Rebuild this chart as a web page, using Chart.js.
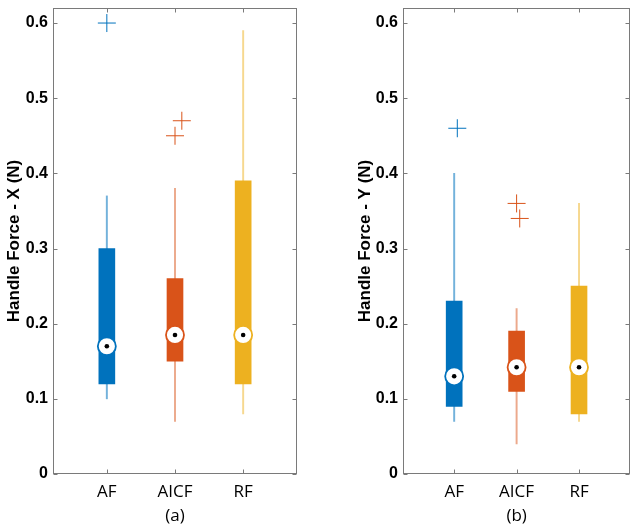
<!DOCTYPE html>
<html>
<head>
<meta charset="utf-8">
<script src="https://cdn.jsdelivr.net/npm/chart.js@4.4.1/dist/chart.umd.min.js"></script>
<style>
  body { margin: 0; background: #fff; }
  #wrap { position: relative; width: 641px; height: 529px; }
  canvas { position: absolute; top: 0; }
</style>
</head>
<body>
<div id="wrap">
  <canvas id="chartX" width="320" height="529" style="left:0"></canvas>
  <canvas id="chartY" width="321" height="529" style="left:320px"></canvas>
</div>
<script>
// groups
var groups = ['AF', 'AICF', 'RF'];
var yTicks = [0, 0.1, 0.2, 0.3, 0.4, 0.5, 0.6];

// (a) Handle Force - X
var xLow    = [0.10, 0.07, 0.08];
var xQ1     = [0.12, 0.15, 0.12];
var xMedian = [0.17, 0.185, 0.185];
var xQ3     = [0.30, 0.26, 0.39];
var xHigh   = [0.37, 0.38, 0.59];
var xOutPos = [1, 2, 2.1];
var xOutGrp = [0, 1, 1];
var xOutVal = [0.60, 0.45, 0.47];

// (b) Handle Force - Y
var yLow    = [0.07, 0.04, 0.07];
var yQ1     = [0.09, 0.11, 0.08];
var yMedian = [0.13, 0.142, 0.142];
var yQ3     = [0.23, 0.19, 0.25];
var yHigh   = [0.40, 0.22, 0.36];
var yOutPos = [1.05, 2, 2.05];
var yOutGrp = [0, 1, 1];
var yOutVal = [0.46, 0.36, 0.34];

var colors = ['#0072BD', '#D95319', '#EDB120'];
var lightColors = ['rgba(0,114,189,0.55)', 'rgba(217,83,25,0.5)', 'rgba(237,177,32,0.5)'];
var frameColor = '#7a7a7a';
var areaTop = 8;

// frame + inward ticks like matlab
var framePlugin = {
  id: 'frame',
  afterLayout: function(chart) {
    // pin the top of the plot box
    var a = chart.chartArea, ys = chart.scales.y;
    a.top = areaTop; a.height = a.bottom - a.top;
    ys.top = areaTop; ys.height = ys.bottom - ys.top;
    ys.configure();
  },
  afterDraw: function(chart) {
    var ctx = chart.ctx, a = chart.chartArea;
    var xs = chart.scales.x, ys = chart.scales.y;
    ctx.save();
    ctx.strokeStyle = frameColor;
    ctx.lineWidth = 1;
    var l = Math.round(a.left) + 0.5, r = Math.round(a.right) - 0.5;
    var t = Math.round(a.top) + 0.5, b = Math.round(a.bottom) - 0.5;
    ctx.strokeRect(l, t, r - l, b - t);
    ctx.beginPath();
    yTicks.forEach(function(v) {
      var py = Math.round(ys.getPixelForValue(v)) + 0.5;
      ctx.moveTo(l, py); ctx.lineTo(l + 4, py);
      ctx.moveTo(r, py); ctx.lineTo(r - 4, py);
    });
    groups.forEach(function(g, i) {
      var px = Math.round(xs.getPixelForValue(i + 1)) + 0.5;
      ctx.moveTo(px, b); ctx.lineTo(px, b - 4);
      ctx.moveTo(px, t); ctx.lineTo(px, t + 4);
    });
    ctx.stroke();
    ctx.restore();
  }
};

function makeChart(id, o) {
  var whiskers = groups.map(function(g, i) { return {x: i + 1, y: [o.low[i], o.high[i]]}; });
  var boxes = groups.map(function(g, i) { return {x: i + 1, y: [o.q1[i], o.q3[i]]}; });
  var medians = groups.map(function(g, i) { return {x: i + 1, y: o.med[i]}; });
  var outliers = o.outVal.map(function(v, i) { return {x: o.outPos[i], y: v}; });
  var outColors = o.outGrp.map(function(k) { return colors[k]; });

  return new Chart(document.getElementById(id), {
    type: 'bar',
    data: {
      datasets: [
        { type: 'scatter', data: medians, pointStyle: 'circle', pointRadius: 2.3,
          pointBackgroundColor: '#000', pointBorderWidth: 0, order: 0 },
        { type: 'scatter', data: medians, pointStyle: 'circle', pointRadius: 9,
          pointBackgroundColor: '#fff', pointBorderColor: colors, pointBorderWidth: 1.8, order: 1 },
        { type: 'scatter', data: outliers, pointStyle: 'cross', pointRadius: 9,
          pointBorderColor: outColors, pointBorderWidth: 1, order: 1 },
        { data: boxes, backgroundColor: colors, barThickness: 16, grouped: false, order: 2 },
        { data: whiskers, backgroundColor: lightColors, barThickness: 1.3, grouped: false, order: 3 }
      ]
    },
    options: {
      responsive: false,
      animation: false,
      devicePixelRatio: 1,
      layout: { padding: { left: o.padLeft, right: o.padRight, top: 8, bottom: 0 } },
      plugins: { legend: { display: false }, tooltip: { enabled: false } },
      scales: {
        x: {
          type: 'linear',
          offset: false,
          min: o.xmin, max: o.xmax,
          grid: { display: false, drawTicks: false, offset: false },
          border: { display: false },
          afterFit: function(s) { s.height = 55; s.paddingLeft = 0; s.paddingRight = 0; },
          afterBuildTicks: function(s) { s.ticks = groups.map(function(g, i) { return {value: i + 1}; }); },
          ticks: {
            padding: 8,
            color: '#000',
            font: { family: 'Open Sans', size: 17 },
            callback: function(v) { return groups[v - 1]; }
          },
          title: {
            display: true, text: o.sub, color: '#000',
            font: { family: 'Open Sans', size: 17 },
            padding: { top: 0, bottom: 3 }
          }
        },
        y: {
          min: 0, max: 0.62,
          grid: { display: false, drawTicks: false },
          border: { display: false },
          afterFit: function(s) { s.width = o.yWidth; s.paddingTop = 0; s.paddingBottom = 0; },
          afterBuildTicks: function(s) { s.ticks = yTicks.map(function(v) { return {value: v}; }); },
          ticks: {
            padding: 5,
            color: '#000',
            font: { family: 'Liberation Sans', size: 16, weight: 'bold' },
            callback: function(v) { return v === 0 ? '0' : v.toFixed(1); }
          },
          title: {
            display: true, text: o.title, color: '#000',
            font: { family: 'Liberation Sans', size: 17, weight: 'bold' },
            padding: { top: 4, bottom: 0 }
          }
        }
      }
    },
    plugins: [framePlugin]
  });
}

makeChart('chartX', {
  low: xLow, q1: xQ1, med: xMedian, q3: xQ3, high: xHigh,
  outPos: xOutPos, outGrp: xOutGrp, outVal: xOutVal,
  xmin: 0.21, xmax: 3.79, padLeft: 0, padRight: 23, yWidth: 53,
  title: 'Handle Force - X (N)', sub: '(a)'
});
makeChart('chartY', {
  low: yLow, q1: yQ1, med: yMedian, q3: yQ3, high: yHigh,
  outPos: yOutPos, outGrp: yOutGrp, outVal: yOutVal,
  xmin: 0.18, xmax: 3.82, padLeft: 31, padRight: 5, yWidth: 52,
  title: 'Handle Force - Y (N)', sub: '(b)'
});
</script>
</body>
</html>
